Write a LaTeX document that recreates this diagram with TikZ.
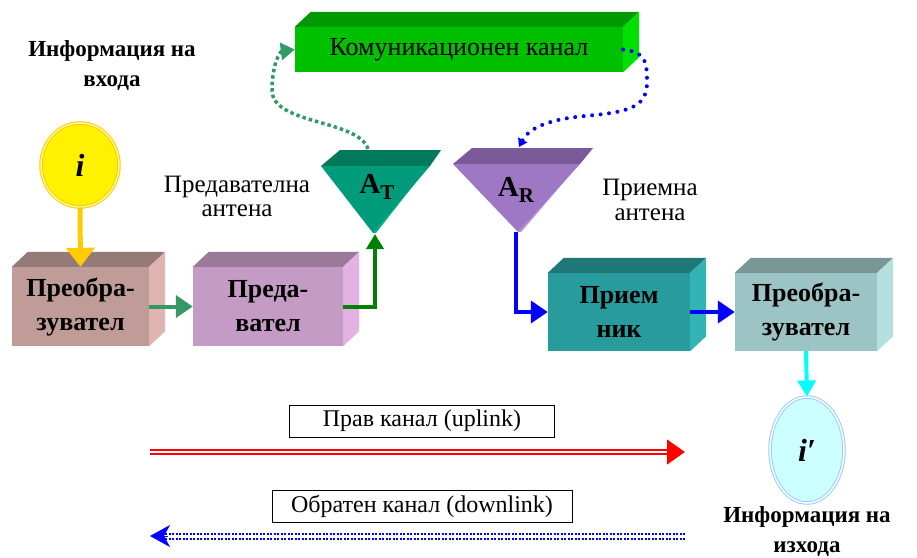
\documentclass[tikz,border=0pt]{standalone}
\usepackage{fontspec}
\setmainfont{Liberation Serif}
\usetikzlibrary{arrows.meta,shapes.geometric}

\definecolor{chtop}{HTML}{009900}
\definecolor{chfront}{HTML}{00C000}
\definecolor{chside}{HTML}{00E000}
\definecolor{cvatop}{HTML}{967A78}
\definecolor{cvafront}{HTML}{C09C98}
\definecolor{cvaside}{HTML}{E0B4B0}
\definecolor{txtop}{HTML}{9A7A98}
\definecolor{txfront}{HTML}{C39BC5}
\definecolor{txside}{HTML}{E2B2E2}
\definecolor{rxtop}{HTML}{1E7878}
\definecolor{rxfront}{HTML}{289C9C}
\definecolor{rxside}{HTML}{32B4B4}
\definecolor{cvbtop}{HTML}{7A9696}
\definecolor{cvbfront}{HTML}{9CC4C4}
\definecolor{cvbside}{HTML}{B4E0E0}
\definecolor{attop}{HTML}{007A5A}
\definecolor{atfront}{HTML}{009B7B}
\definecolor{atside}{HTML}{00B08A}
\definecolor{artop}{HTML}{7A5A98}
\definecolor{arfront}{HTML}{9E78C4}
\definecolor{arside}{HTML}{B090D4}
\definecolor{arryellow}{HTML}{FFCC00}
\definecolor{arrsea}{HTML}{339966}
\definecolor{arrgreen}{HTML}{008000}
\definecolor{arrcyan}{HTML}{00FFFF}
\definecolor{outfill}{HTML}{CCFFFF}
\definecolor{outline}{HTML}{99CCFF}

\tikzset{
  block/.style={fill=#1, minimum height=79, align=center,
    font=\fontsize{26}{34}\selectfont\bfseries, inner sep=0pt},
  flow/.style={line width=4pt, draw=#1, -{Triangle[length=17pt,width=22pt]}},
  lbl/.style={draw, line width=0.6pt, minimum height=32, inner sep=0pt,
    font=\fontsize{24}{26}\selectfont},
  infotxt/.style={align=center, font=\fontsize{23}{30}\selectfont\bfseries}
}

% top and right faces of a block
\newcommand{\blockfaces}[3]{%
  \fill[#2] (#1.north west) -- ++(16,-15) -- ([shift={(16,-15)}]#1.north east)
    -- (#1.north east) -- cycle;
  \fill[#3] (#1.north east) -- ++(16,-15) -- ([shift={(16,-15)}]#1.south east)
    -- (#1.south east) -- cycle;
}

\begin{document}
\begin{tikzpicture}[x=1pt,y=-1pt]
  \useasboundingbox (0,0) rectangle (917,557);

  % channel
  \node[block=chfront, minimum width=328, minimum height=45,
    font=\fontsize{26}{28}\selectfont] (ch) at (459,49.5) {Комуникационен канал};
  \blockfaces{ch}{chtop}{chside}

  % blocks
  \node[block=cvafront, minimum width=137] (cva) at (80.5,306.5) {Преобра-\\зувател};
  \blockfaces{cva}{cvatop}{cvaside}
  \node[block=txfront, minimum width=150] (tx) at (268,306.5) {Преда-\\вател};
  \blockfaces{tx}{txtop}{txside}
  \node[block=rxfront, minimum width=142, minimum height=78] (rx) at (619,312) {Прием\\ник};
  \blockfaces{rx}{rxtop}{rxside}
  \node[block=cvbfront, minimum width=142, minimum height=78] (cvb) at (806,312) {Преобра-\\зувател};
  \blockfaces{cvb}{cvbtop}{cvbside}

  % antennas
  \fill[atside] (429,166) -- (441,150) -- (376,233) -- (373,233) -- cycle;
  \fill[attop] (321,166) -- (340,150) -- (441,150) -- (430,166) -- cycle;
  \fill[atfront] (321,166) -- (430,166) -- (373,233) -- cycle;
  \fill[arside] (579,164) -- (593,148) -- (521,232) -- (518,232) -- cycle;
  \fill[artop] (453,164) -- (472,148) -- (593,148) -- (580,164) -- cycle;
  \fill[arfront] (453,164) -- (580,164) -- (518,232) -- cycle;
  \node[font=\bfseries] (at) at (377,187)
    {\fontsize{29}{29}\selectfont A\raisebox{-6pt}{\fontsize{21}{21}\selectfont T}};
  \node[font=\bfseries] (ar) at (516,190)
    {\fontsize{29}{29}\selectfont A\raisebox{-6pt}{\fontsize{21}{21}\selectfont R}};
  \coordinate (at-tip) at (375,234);
  \coordinate (at-top) at (368,149);
  \coordinate (ar-tip) at (516,232);
  \coordinate (ar-top) at (519,147);

  \node[align=center, font=\fontsize{25}{24}\selectfont] (atlbl) at (237,196)
    {Предавателна\\антена};
  \node[align=center, font=\fontsize{25}{25}\selectfont] (arlbl) at (650,200)
    {Приемна\\антена};

  % information source and sink
  \node[ellipse, minimum width=78, minimum height=84, fill=yellow,
    draw=arryellow, double=yellow!40, double distance=1.5pt, line width=1pt]
    (in) at (80,165) {\fontsize{32}{32}\selectfont\bfseries\itshape i};
  \node[ellipse, minimum width=74, minimum height=106, fill=outfill,
    draw=outline, double=white, double distance=1.5pt, line width=1pt]
    (out) at (807,450) {\fontsize{32}{32}\selectfont\bfseries\itshape i′};
  \node[infotxt] (intext) at (112,66) {Информация на\\входа};
  \node[infotxt] (outtext) at (807,532) {Информация на\\изхода};

  % signal path
  \draw[flow=arryellow, line width=5pt, -{Triangle[length=19pt,width=28pt]}]
    (in.south) -- (cva.north);
  \draw[flow=arrsea] (cva.east) -- (tx.west);
  \draw[flow=arrgreen, -{Triangle[length=15pt,width=17pt]}] (tx.east) -| (at-tip);
  \draw[flow=blue] (ar-tip) |- (rx.west);
  \draw[flow=blue] (rx.east) -- (cvb.west);
  \draw[flow=arrcyan, -{Triangle[length=16pt,width=18pt]}] (cvb.south) -- (out.north);

  % radio link
  \draw[arrsea, line width=3.5pt, dash pattern=on 3.5pt off 3pt,
    -{Triangle[length=14pt,width=17pt]}]
    (at-top) .. controls +(-10,-30) and +(0,35) .. (272,90)
    .. controls +(0,-25) and +(-15,2) .. (ch.west);
  \draw[blue, line width=4pt, line cap=round, dash pattern=on 0pt off 8.5pt,
    -{Triangle[length=8pt,width=10pt]}]
    (ch.east) .. controls +(22,3) and +(0,-22) .. (647,82)
    .. controls +(0,25) and +(45,-4) .. (585,116)
    .. controls +(-45,4) and +(8,-15) .. (ar-top);

  % uplink and downlink
  \node[lbl, minimum width=265] (ul) at (422,421) {Прав канал (uplink)};
  \node[lbl, minimum width=300] (dl) at (422,506) {Обратен канал (downlink)};
  \coordinate (ul-a) at (150,452);
  \coordinate (ul-b) at (685,452);
  \coordinate (dl-a) at (685,536);
  \coordinate (dl-b) at (150,536);
  \draw[red, line width=5.5pt, -{Triangle[length=18pt,width=24pt]}] (ul-a) -- (ul-b);
  \draw[white, line width=1.5pt] (ul-a) -- ([xshift=-18]ul-b);
  \draw[blue, line width=2pt, dash pattern=on 2pt off 1.5pt]
    ([yshift=-2.5]dl-a) -- ([yshift=-2.5,xshift=14]dl-b)
    ([yshift=2.5]dl-a) -- ([yshift=2.5,xshift=14]dl-b);
  \draw[blue, line width=1pt, -{Stealth[length=20pt,width=22pt,inset=6pt]}]
    ([xshift=18]dl-b) -- (dl-b);
\end{tikzpicture}
\end{document}
